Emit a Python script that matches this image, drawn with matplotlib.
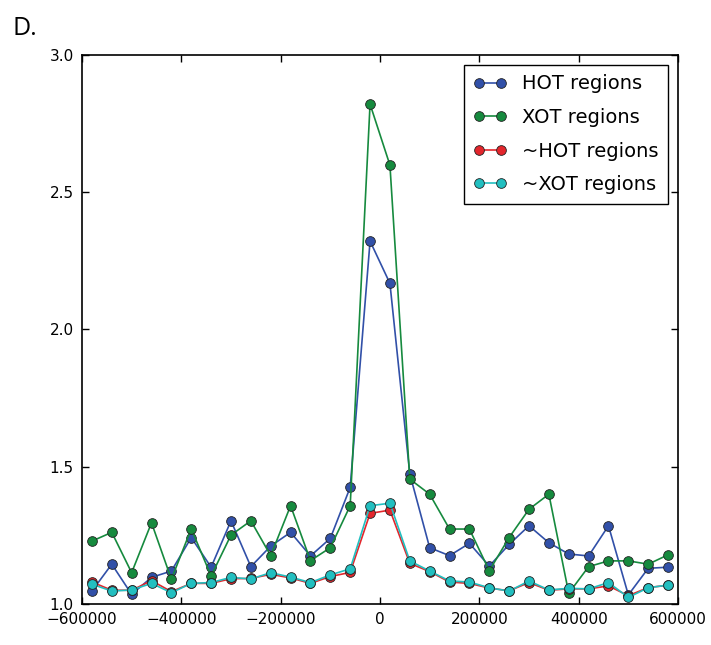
import numpy as np
import matplotlib
matplotlib.use('Agg')
import matplotlib.pyplot as plt

# bin centres, 40 kb apart
positions = np.arange(-580000, 580001, 40000)

hot = [1.047, 1.145, 1.035, 1.097, 1.120, 1.242, 1.134, 1.303, 1.136, 1.211,
       1.261, 1.175, 1.239, 1.425, 2.322, 2.168, 1.474, 1.205, 1.176, 1.221,
       1.138, 1.217, 1.285, 1.223, 1.182, 1.175, 1.285, 1.033, 1.130, 1.134]
xot = [1.229, 1.261, 1.114, 1.296, 1.090, 1.274, 1.102, 1.251, 1.303, 1.176,
       1.358, 1.158, 1.205, 1.358, 2.821, 2.599, 1.455, 1.400, 1.273, 1.273,
       1.121, 1.242, 1.345, 1.400, 1.039, 1.136, 1.157, 1.157, 1.145, 1.179]
not_hot = [1.080, 1.050, 1.050, 1.085, 1.045, 1.075, 1.075, 1.092, 1.093, 1.108,
           1.095, 1.075, 1.100, 1.115, 1.330, 1.342, 1.148, 1.118, 1.080, 1.075,
           1.058, 1.048, 1.078, 1.050, 1.055, 1.055, 1.066, 1.030, 1.060, 1.068]
not_xot = [1.072, 1.047, 1.051, 1.075, 1.041, 1.075, 1.078, 1.097, 1.091, 1.114,
           1.098, 1.078, 1.106, 1.128, 1.358, 1.367, 1.157, 1.120, 1.084, 1.080,
           1.059, 1.047, 1.084, 1.051, 1.057, 1.055, 1.078, 1.024, 1.059, 1.069]

series = [
    (hot, 'HOT regions', '#3150a8'),
    (xot, 'XOT regions', '#168a3e'),
    (not_hot, '~HOT regions', '#e3262c'),
    (not_xot, '~XOT regions', '#22bfc0'),
]

fig = plt.figure(figsize=(7.11, 6.45), dpi=100)
ax = fig.add_axes([0.1153, 0.0636, 0.8383, 0.8511])

for vals, label, col in series:
    ax.plot(positions, vals, '-o', color=col, lw=1.2, ms=7,
            mfc=col, mec='#222222', mew=0.6, label=label)

ax.set_xlim(-600000, 600000)
ax.set_ylim(1.0, 3.0)
ax.set_xticks(np.arange(-600000, 600001, 200000))
ax.set_yticks([1.0, 1.5, 2.0, 2.5, 3.0])
ax.tick_params(direction='in', top=True, right=True, length=5, width=1,
               labelsize=11, pad=6)
for sp in ax.spines.values():
    sp.set_linewidth(1.2)

leg = ax.legend(loc='upper right', fontsize=14, numpoints=2,
                handlelength=1.7, handletextpad=0.8, labelspacing=0.75,
                borderpad=0.5, borderaxespad=0.5, fancybox=False,
                framealpha=1)
leg.get_frame().set_edgecolor('black')
leg.get_frame().set_linewidth(1.0)

fig.text(0.018, 0.975, 'D.', fontsize=18, family='Open Sans', va='top', ha='left')

fig.savefig('out.png', dpi=100)
